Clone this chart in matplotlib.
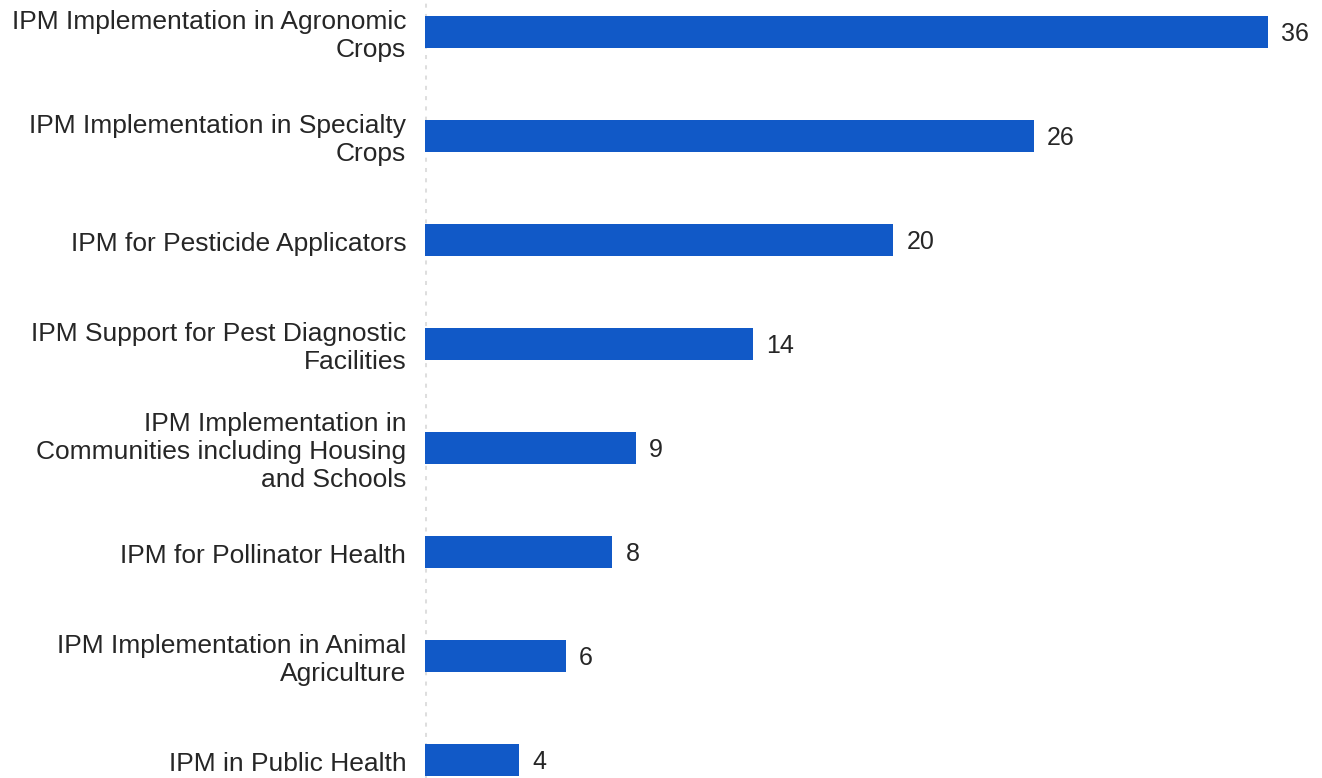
import matplotlib
matplotlib.use("Agg")
import matplotlib.pyplot as plt

categories = [
    "IPM Implementation in Agronomic\nCrops",
    "IPM Implementation in Specialty\nCrops",
    "IPM for Pesticide Applicators",
    "IPM Support for Pest Diagnostic\nFacilities",
    "IPM Implementation in\nCommunities including Housing\nand Schools",
    "IPM for Pollinator Health",
    "IPM Implementation in Animal\nAgriculture",
    "IPM in Public Health",
]
values = [36, 26, 20, 14, 9, 8, 6, 4]

plt.rcParams['font.family'] = ['Liberation Sans', 'DejaVu Sans']

fig = plt.figure(figsize=(13.22, 7.78), dpi=100)
ax = fig.add_axes([425 / 1322, 0, 1 - 425 / 1322, 1])

pos = list(range(len(values)))
ax.barh(pos, values, height=0.31, color="#1159c7")
ax.set_ylim(7.173, -0.308)
ax.set_xlim(0, 38.3)

# dotted baseline
ax.axvline(0, color="#dedede", lw=2.9, linestyle=(0, (1.0, 1.55)), zorder=0,
           dash_capstyle="butt")

for y, v, lab in zip(pos, values, categories):
    ax.annotate(str(v), (v, y), xytext=(9.5, -1.5), textcoords="offset points",
                va="center", ha="left", fontsize=18, color="#262626")
    ax.annotate(lab, (0, y), xytext=(-13.5, -3), textcoords="offset points",
                va="center", ha="right", fontsize=19, color="#262626",
                linespacing=1.2)

ax.set_xticks([])
ax.set_yticks([])
for s in ax.spines.values():
    s.set_visible(False)
ax.patch.set_alpha(0)

fig.savefig("out.png", dpi=100)
